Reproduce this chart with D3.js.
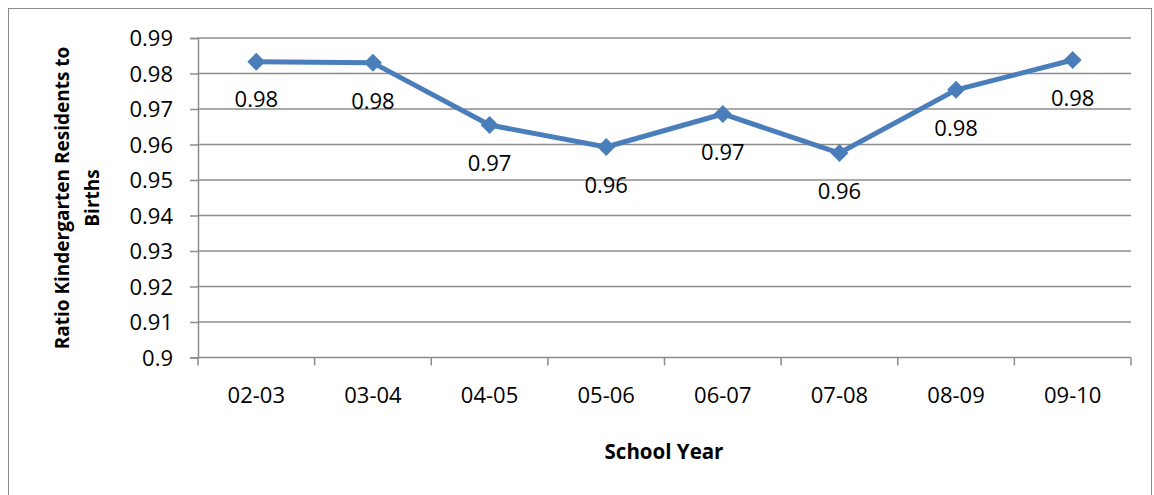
<!DOCTYPE html>
<html><head><meta charset="utf-8">
<script src="https://cdn.jsdelivr.net/npm/d3@7"></script>
<style>body{margin:0;background:#fff;} text{font-family:"Open Sans",sans-serif;fill:#000;}</style>
</head><body><svg id="c" width="1154" height="495"></svg>
<script>
const categories = ["02-03","03-04","04-05","05-06","06-07","07-08","08-09","09-10"];
const ratios = [0.9833, 0.9830, 0.9655, 0.9593, 0.9686, 0.9576, 0.9754, 0.9838];
const yTicks = [0.9,0.91,0.92,0.93,0.94,0.95,0.96,0.97,0.98,0.99];
const yTickLabels = ["0.9","0.91","0.92","0.93","0.94","0.95","0.96","0.97","0.98","0.99"];

const FONT = "'Open Sans', sans-serif";
const svg = d3.select("#c");
svg.append("rect").attr("x",8.5).attr("y",8.5).attr("width",1143).attr("height",500)
  .attr("fill","#fff").attr("stroke","#8c8c8c").attr("stroke-width",1);

const L=198, R=1131, T=38, B=357.5;
const x = d3.scaleBand().domain(categories).range([L,R]);
const y = d3.scaleLinear().domain([0.9,0.99]).range([B,T]);

svg.append("g").selectAll("line").data(yTicks.slice(1)).join("line")
  .attr("x1",L).attr("x2",R).attr("y1",d=>y(d)).attr("y2",d=>y(d))
  .attr("stroke","#8c8c8c").attr("stroke-width",1.5);

const yAxis = svg.append("g").attr("transform",`translate(${L},0)`)
  .call(d3.axisLeft(y).tickValues(yTicks).tickFormat((d,i)=>yTickLabels[i]).tickSize(8).tickPadding(17));
const xAxis = svg.append("g").attr("transform",`translate(0,${B})`)
  .call(d3.axisBottom(x).tickSize(0).tickPadding(30));
svg.append("g").selectAll("line").data(categories.concat(["__end"])).join("line")
  .attr("x1",(d,i)=> i<categories.length ? x(d) : R).attr("x2",(d,i)=> i<categories.length ? x(d) : R)
  .attr("y1",B).attr("y2",B+8).attr("stroke","#8c8c8c").attr("stroke-width",1.5);

[yAxis,xAxis].forEach(g=>{
  g.selectAll("path.domain").attr("stroke","#8c8c8c").attr("stroke-width",1.5);
  g.selectAll(".tick line").attr("stroke","#8c8c8c").attr("stroke-width",1.5);
  g.selectAll("text").style("font-size","22px").attr("fill","#000").style("font-family",FONT);
});
yAxis.selectAll("text").attr("dy","0.35em");
xAxis.select("path.domain").attr("d",`M${L},0H${R}`);

const cx = d=>x(d)+x.bandwidth()/2;
svg.append("path").datum(ratios)
  .attr("d", d3.line().x((d,i)=>cx(categories[i])).y(d=>y(d)))
  .attr("fill","none").attr("stroke","#4a7ebb").attr("stroke-width",5).attr("stroke-linejoin","round");

svg.append("g").selectAll("path").data(ratios).join("path")
  .attr("transform",(d,i)=>`translate(${cx(categories[i])},${y(d)})`)
  .attr("d","M0,-9L9,0L0,9L-9,0Z").attr("fill","#4a7ebb");

svg.append("g").selectAll("text").data(ratios).join("text")
  .attr("x",(d,i)=>cx(categories[i])).attr("y",d=>y(d)+38).attr("dy","0.35em")
  .attr("text-anchor","middle").style("font-size","22px").text(d=>d3.format(".2f")(d));

svg.append("text").attr("transform","translate(62,198) rotate(-90)").attr("text-anchor","middle").attr("dy","0.35em")
  .style("font-size","19px").style("font-weight","bold").text("Ratio Kindergarten Residents to");
svg.append("text").attr("transform","translate(92,198) rotate(-90)").attr("text-anchor","middle").attr("dy","0.35em")
  .style("font-size","19px").style("font-weight","bold").text("Births");
svg.append("text").attr("x",664).attr("y",452).attr("text-anchor","middle").attr("dy","0.35em")
  .style("font-size","20.5px").style("font-weight","bold").text("School Year");
</script></body></html>
